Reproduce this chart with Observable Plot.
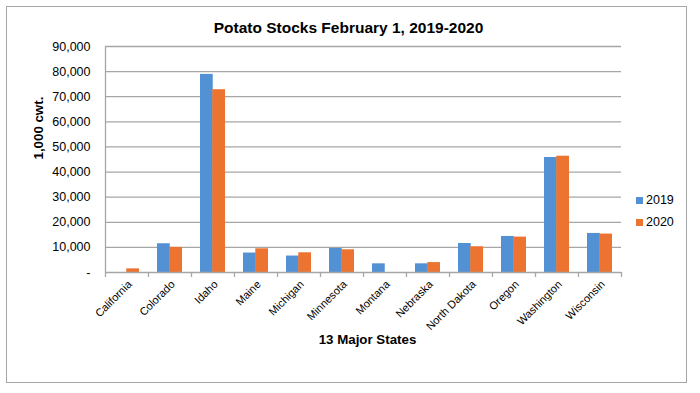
<!DOCTYPE html>
<html>
<head>
<meta charset="utf-8">
<script src="https://cdn.jsdelivr.net/npm/d3@7"></script>
<script src="https://cdn.jsdelivr.net/npm/@observablehq/plot@0.6"></script>
<style>
  html, body { margin: 0; padding: 0; background: #fff; }
  #wrap { position: relative; width: 700px; height: 393px; font-family: "Liberation Sans", Arial, sans-serif; }
  #border { position: absolute; left: 6px; top: 6px; width: 681px; height: 377px; border: 1.5px solid #a6a6a6; box-sizing: border-box; }
  #legend { position: absolute; left: 636px; top: 189px; font-size: 12.5px; color: #000; }
  #legend div { display: flex; align-items: center; height: 22px; }
  #legend span.sw { display: inline-block; width: 7px; height: 7px; margin-right: 3px; }
  svg { position: absolute; left: 0; top: 0; }
</style>
</head>
<body>
<div id="wrap"><div id="border"></div><div id="legend"></div></div>
<script>
const states = ["California","Colorado","Idaho","Maine","Michigan","Minnesota","Montana","Nebraska","North Dakota","Oregon","Washington","Wisconsin"];
const stocks2019 = [0, 11450, 78900, 7750, 6550, 9600, 3450, 3450, 11550, 14350, 45800, 15550];
const stocks2020 = [1450, 10000, 72800, 9450, 7850, 9050, 0, 3950, 10250, 14100, 46300, 15300];
const years = ["2019", "2020"];
const colors = ["#5291d3", "#ed7430"];
const yTicks = [0, 10000, 20000, 30000, 40000, 50000, 60000, 70000, 80000, 90000];
const title = "Potato Stocks February 1, 2019-2020";
const yLabel = "1,000 cwt.";
const xLabel = "13 Major States";

const rows = [];
states.forEach((s, i) => {
  rows.push({state: s, year: years[0], value: stocks2019[i]});
  rows.push({state: s, year: years[1], value: stocks2020[i]});
});

const W = 700, H = 393;
const mL = 105, mR = 79, mT = 46, mB = 121;
const step = (W - mL - mR) / states.length;
const pad = 0.43;
const bw = step * (1 - pad);
const half = bw / 2;
const fmt = d3.format(",");
const axisColor = "#a6a6a6";

const chart = Plot.plot({
  width: W, height: H,
  marginLeft: mL, marginRight: mR, marginTop: mT, marginBottom: mB,
  style: {fontFamily: "'Liberation Sans', Arial, sans-serif", background: "transparent", overflow: "visible"},
  x: {domain: states, paddingInner: pad, paddingOuter: pad / 2, align: 0.5, axis: null},
  y: {type: "linear", domain: [0, 90000], axis: null},
  color: {domain: years, range: colors},
  marks: [
    Plot.ruleY(yTicks.filter(d => d > 0), {stroke: axisColor, strokeWidth: 1.3}),
    Plot.barY(rows.filter(d => d.year === years[0]), {x: "state", y: "value", fill: "year", insetRight: half}),
    Plot.barY(rows.filter(d => d.year === years[1]), {x: "state", y: "value", fill: "year", insetLeft: half}),
    Plot.ruleY([0], {stroke: axisColor, strokeWidth: 1.3}),
    Plot.ruleX([states[0]], {x: d => d, dx: -step / 2, y1: () => 0, y2: () => 90000, stroke: axisColor, strokeWidth: 1.3}),
    Plot.ruleX(states, {x: d => d, dx: step / 2, y1: () => 0, y2: () => 0, insetBottom: -5, stroke: axisColor, strokeWidth: 1.3}),
    Plot.ruleX([states[0]], {x: d => d, dx: -step / 2, y1: () => 0, y2: () => 0, insetBottom: -5, stroke: axisColor, strokeWidth: 1.3}),
    Plot.text(yTicks, {x: () => states[0], dx: -step / 2 - 15, y: d => d, text: d => d === 0 ? "-" : fmt(d), textAnchor: "end", fontSize: 12.5, fill: "#000"}),
    Plot.text(states, {x: d => d, y: () => 0, dy: 10, dx: 3, text: d => d, rotate: -45, textAnchor: "end", fontSize: 11, fill: "#000"}),
    Plot.text([title], {frameAnchor: "top", dy: -25, dx: -15, text: d => d, fontSize: 15.5, fontWeight: "bold", fill: "#000"}),
    Plot.text([xLabel], {frameAnchor: "bottom", dy: 71, dx: 4, text: d => d, fontSize: 13.3, fontWeight: "bold", fill: "#000"}),
    Plot.text([yLabel], {frameAnchor: "left", dx: -67, text: d => d, rotate: -90, fontSize: 13.3, fontWeight: "bold", fill: "#000"})
  ]
});
document.getElementById("wrap").appendChild(chart);

const legend = document.getElementById("legend");
years.forEach((y, i) => {
  const row = document.createElement("div");
  const sw = document.createElement("span");
  sw.className = "sw";
  sw.style.background = colors[i];
  row.appendChild(sw);
  row.appendChild(document.createTextNode(y));
  legend.appendChild(row);
});
</script>
</body>
</html>
